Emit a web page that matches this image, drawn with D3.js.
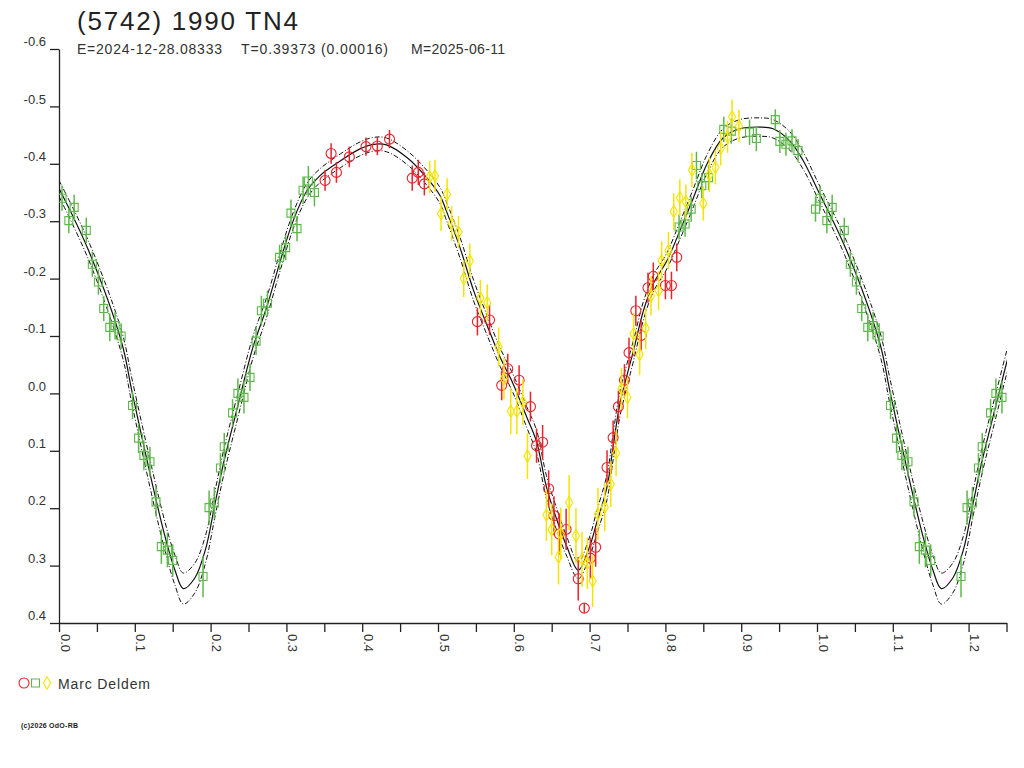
<!DOCTYPE html>
<html>
<head>
<meta charset="utf-8">
<script src="https://cdn.jsdelivr.net/npm/d3@7"></script>
<style>
  body { margin: 0; background: #fff; }
  svg text { font-family: "Liberation Sans", Arial, sans-serif; }
</style>
</head>
<body>
<div id="chart"></div>
<script>
// textes
const titleText = '(5742) 1990 TN4';
const subtitleParts = ['E=2024-12-28.08333', 'T=0.39373 (0.00016)', 'M=2025-06-11'];
const observerName = 'Marc Deldem';
const creditText = '(c)2026 OdO-RB';

// axes
const xTickValues = [0, 0.05, 0.1, 0.15, 0.2, 0.25, 0.3, 0.35, 0.4, 0.45, 0.5, 0.55, 0.6,
  0.65, 0.7, 0.75, 0.8, 0.85, 0.9, 0.95, 1.0, 1.05, 1.1, 1.15, 1.2, 1.25];
const xLabelValues = [0, 0.1, 0.2, 0.3, 0.4, 0.5, 0.6, 0.7, 0.8, 0.9, 1.0, 1.1, 1.2];
const yTickValues = [-0.6, -0.5, -0.4, -0.3, -0.2, -0.1, 0, 0.1, 0.2, 0.3, 0.4];

// courbe ajustée (phase 0..1), avec sa demi-largeur d'incertitude
const fitPhase = [0.000, 0.039, 0.083, 0.096, 0.122, 0.140, 0.153, 0.164, 0.179, 0.193,
  0.206, 0.217, 0.236, 0.256, 0.274, 0.292, 0.309, 0.327, 0.344, 0.371, 0.397, 0.415,
  0.432, 0.459, 0.485, 0.503, 0.511, 0.529, 0.547, 0.564, 0.582, 0.599, 0.617, 0.630,
  0.643, 0.657, 0.670, 0.685, 0.700, 0.709, 0.723, 0.731, 0.740, 0.749, 0.758, 0.771,
  0.784, 0.802, 0.819, 0.837, 0.855, 0.876, 0.898, 0.925, 0.942, 0.964, 0.982, 1.000];
const fitMag = [-0.357, -0.249, -0.087, -0.005, 0.151, 0.250, 0.308, 0.340, 0.322, 0.273,
  0.191, 0.122, 0.021, -0.081, -0.150, -0.231, -0.301, -0.353, -0.379, -0.405, -0.426, -0.434,
  -0.433, -0.411, -0.376, -0.344, -0.318, -0.254, -0.179, -0.121, -0.063, -0.017, 0.041, 0.084,
  0.163, 0.221, 0.267, 0.308, 0.267, 0.227, 0.163, 0.093, 0.018, -0.030, -0.075, -0.144,
  -0.191, -0.231, -0.283, -0.341, -0.400, -0.445, -0.461, -0.464, -0.461, -0.440, -0.405, -0.357];
const fitSpread = [0.014, 0.016, 0.020, 0.022, 0.024, 0.025, 0.026, 0.027, 0.026, 0.024,
  0.022, 0.022, 0.021, 0.019, 0.017, 0.016, 0.014, 0.013, 0.012, 0.012, 0.012, 0.012,
  0.012, 0.012, 0.013, 0.014, 0.016, 0.018, 0.018, 0.017, 0.016, 0.016, 0.018, 0.020,
  0.020, 0.019, 0.017, 0.015, 0.017, 0.020, 0.022, 0.023, 0.022, 0.020, 0.018, 0.016,
  0.014, 0.014, 0.015, 0.016, 0.016, 0.016, 0.016, 0.016, 0.016, 0.016, 0.015, 0.014];

// mesures [phase, magnitude, erreur] par session
const redPoints = [
  [0.351, -0.371, 0.018], [0.359, -0.418, 0.018], [0.366, -0.385, 0.018], [0.383, -0.412, 0.018],
  [0.405, -0.430, 0.016], [0.420, -0.431, 0.016], [0.436, -0.443, 0.016], [0.466, -0.375, 0.022],
  [0.474, -0.385, 0.022], [0.482, -0.365, 0.020], [0.552, -0.125, 0.024], [0.568, -0.128, 0.026],
  [0.584, -0.014, 0.026], [0.592, -0.043, 0.026], [0.607, -0.023, 0.026], [0.622, 0.023, 0.026],
  [0.630, 0.091, 0.030], [0.638, 0.085, 0.030], [0.646, 0.166, 0.032], [0.653, 0.213, 0.034],
  [0.660, 0.245, 0.036], [0.669, 0.237, 0.036], [0.685, 0.323, 0.038], [0.693, 0.374, 0.008],
  [0.701, 0.287, 0.036], [0.708, 0.268, 0.034], [0.723, 0.129, 0.030], [0.731, 0.077, 0.030],
  [0.738, 0.023, 0.028], [0.746, -0.023, 0.028], [0.752, -0.071, 0.026], [0.761, -0.144, 0.026],
  [0.768, -0.101, 0.026], [0.777, -0.184, 0.026], [0.784, -0.204, 0.024], [0.800, -0.188, 0.024],
  [0.808, -0.188, 0.024], [0.815, -0.237, 0.024]
];
const greenPoints = [
  [0.004, -0.340, 0.022], [0.013, -0.301, 0.022], [0.020, -0.324, 0.022], [0.036, -0.284, 0.022],
  [0.044, -0.225, 0.022], [0.052, -0.194, 0.022], [0.059, -0.148, 0.022], [0.067, -0.115, 0.024],
  [0.074, -0.118, 0.024], [0.082, -0.100, 0.022], [0.097, 0.021, 0.024], [0.105, 0.078, 0.026],
  [0.112, 0.108, 0.026], [0.120, 0.119, 0.026], [0.128, 0.189, 0.026], [0.135, 0.267, 0.030],
  [0.143, 0.273, 0.030], [0.150, 0.291, 0.028], [0.190, 0.319, 0.036], [0.198, 0.199, 0.030],
  [0.205, 0.191, 0.028], [0.213, 0.130, 0.026], [0.218, 0.093, 0.024], [0.229, 0.034, 0.024],
  [0.236, 0.000, 0.026], [0.244, 0.007, 0.028], [0.252, -0.028, 0.024], [0.260, -0.091, 0.024],
  [0.267, -0.144, 0.026], [0.275, -0.157, 0.022], [0.291, -0.237, 0.022], [0.299, -0.254, 0.022],
  [0.306, -0.314, 0.024], [0.314, -0.287, 0.022], [0.322, -0.354, 0.024], [0.329, -0.370, 0.026],
  [0.337, -0.350, 0.024], [0.818, -0.290, 0.022], [0.826, -0.295, 0.022], [0.834, -0.321, 0.022],
  [0.841, -0.397, 0.024], [0.848, -0.362, 0.022], [0.857, -0.376, 0.022], [0.877, -0.460, 0.022],
  [0.887, -0.457, 0.022], [0.911, -0.455, 0.022], [0.920, -0.444, 0.022], [0.945, -0.477, 0.018],
  [0.951, -0.439, 0.020], [0.959, -0.434, 0.020], [0.967, -0.440, 0.020], [0.975, -0.423, 0.020],
  [0.998, -0.321, 0.022]
];
const yellowPoints = [
  [0.489, -0.377, 0.028], [0.496, -0.379, 0.028], [0.504, -0.313, 0.030], [0.512, -0.347, 0.028],
  [0.518, -0.296, 0.030], [0.527, -0.281, 0.028], [0.534, -0.200, 0.032], [0.542, -0.231, 0.030],
  [0.556, -0.166, 0.032], [0.565, -0.158, 0.032], [0.580, -0.081, 0.034], [0.587, -0.026, 0.036],
  [0.596, 0.031, 0.040], [0.604, 0.031, 0.040], [0.612, 0.015, 0.040], [0.618, 0.109, 0.040],
  [0.643, 0.212, 0.045], [0.650, 0.237, 0.045], [0.659, 0.285, 0.048], [0.662, 0.244, 0.045],
  [0.673, 0.190, 0.048], [0.682, 0.248, 0.048], [0.690, 0.289, 0.048], [0.697, 0.296, 0.045],
  [0.704, 0.327, 0.045], [0.711, 0.210, 0.045], [0.720, 0.198, 0.042], [0.728, 0.158, 0.040],
  [0.735, 0.104, 0.040], [0.742, -0.008, 0.036], [0.750, 0.007, 0.036], [0.758, -0.104, 0.036],
  [0.766, -0.068, 0.036], [0.774, -0.113, 0.036], [0.781, -0.170, 0.034], [0.791, -0.179, 0.034],
  [0.795, -0.231, 0.034], [0.804, -0.249, 0.032], [0.811, -0.317, 0.032], [0.819, -0.341, 0.032],
  [0.827, -0.334, 0.030], [0.835, -0.389, 0.030], [0.850, -0.331, 0.030], [0.858, -0.381, 0.030],
  [0.866, -0.394, 0.030], [0.873, -0.427, 0.030], [0.882, -0.447, 0.028], [0.888, -0.482, 0.030],
  [0.897, -0.466, 0.028]
];

const series = [
  { points: redPoints, color: '#e8232b', shape: 'circle' },
  { points: greenPoints, color: '#5cb848', shape: 'square' },
  { points: yellowPoints, color: '#f4e400', shape: 'diamond' }
];

const W = 1024, H = 768;
const phaseMax = 1.25;

const svg = d3.select('#chart').append('svg')
  .attr('width', W).attr('height', H);

const x = d3.scaleLinear().domain([0, phaseMax]).range([59, 1006.5]);
const y = d3.scaleLinear().domain([-0.6, 0.4]).range([49, 623]);

// titre
svg.append('text')
  .attr('x', 77).attr('y', 30)
  .attr('font-size', '26px').attr('fill', '#222')
  .attr('textLength', 221).attr('lengthAdjust', 'spacing')
  .text(titleText);

const subX = [77, 241, 411];
const subLen = [145, 147, 94];
subtitleParts.forEach((t, i) => {
  svg.append('text')
    .attr('x', subX[i]).attr('y', 53.5)
    .attr('font-size', '14px').attr('fill', '#333')
    .attr('textLength', subLen[i]).attr('lengthAdjust', 'spacing')
    .text(t);
});

// axes
const yAxis = svg.append('g')
  .attr('transform', 'translate(59,0)')
  .call(d3.axisLeft(y).tickValues(yTickValues).tickSize(9).tickSizeOuter(0)
    .tickFormat(d => d.toFixed(1)));
yAxis.selectAll('text')
  .attr('x', -13).attr('dy', '-0.25em')
  .attr('font-size', '13px').attr('fill', '#333')
  .attr('font-family', '"Liberation Sans", Arial, sans-serif');

const xAxis = svg.append('g')
  .attr('transform', 'translate(0,623)')
  .call(d3.axisBottom(x).tickValues(xTickValues).tickSize(9).tickSizeOuter(0)
    .tickFormat(d => xLabelValues.some(v => Math.abs(v - d) < 1e-6) ? d.toFixed(1) : ''));
xAxis.selectAll('text')
  .attr('transform', 'rotate(90)')
  .attr('x', 11).attr('y', -1).attr('dy', 0)
  .attr('text-anchor', 'start')
  .attr('font-size', '13px').attr('fill', '#333')
  .attr('font-family', '"Liberation Sans", Arial, sans-serif');

[yAxis, xAxis].forEach(a => {
  a.select('.domain').attr('stroke', '#222').attr('stroke-width', 1.3);
  a.selectAll('.tick line').attr('stroke', '#222').attr('stroke-width', 1.3);
});

// zone de tracé
svg.append('clipPath').attr('id', 'plot-clip')
  .append('rect').attr('x', 59).attr('y', 0).attr('width', 1007 - 59).attr('height', 623);

const plot = svg.append('g').attr('clip-path', 'url(#plot-clip)');

// courbe répliquée au-delà de la phase 1
const fitRows = fitPhase.map((p, i) => ({ p, m: fitMag[i], s: fitSpread[i] }));
const fitExtended = fitRows.concat(
  fitRows.filter(d => d.p > 0 && d.p <= 0.3).map(d => ({ p: d.p + 1, m: d.m, s: d.s }))
);

const lineOf = fn => d3.line()
  .x(d => x(d.p))
  .y(d => y(fn(d)))
  .curve(d3.curveCatmullRom.alpha(0.5));

plot.append('path').datum(fitExtended)
  .attr('fill', 'none').attr('stroke', '#111').attr('stroke-width', 1.2)
  .attr('d', lineOf(d => d.m));

[d => d.m - d.s, d => d.m + d.s].forEach(fn => {
  plot.append('path').datum(fitExtended)
    .attr('fill', 'none').attr('stroke', '#111').attr('stroke-width', 1)
    .attr('stroke-dasharray', '5,2,1,2')
    .attr('d', lineOf(fn));
});

// points (avec répétition entre 1 et 1.25)
const symbolPath = {
  circle: d3.symbol().type(d3.symbolCircle).size(Math.PI * 25),
  square: d3.symbol().type(d3.symbolSquare).size(64),
  diamond: d3.symbol().type(d3.symbolDiamond).size(44)
};

series.forEach(s => {
  const pts = [];
  s.points.forEach(([p, m, e]) => {
    pts.push({ p, m, e });
    if (p + 1 <= phaseMax) pts.push({ p: p + 1, m, e });
  });
  const g = plot.append('g');
  g.selectAll('line')
    .data(pts)
    .join('line')
    .attr('x1', d => x(d.p)).attr('x2', d => x(d.p))
    .attr('y1', d => y(d.m - d.e)).attr('y2', d => y(d.m + d.e))
    .attr('stroke', s.color).attr('stroke-width', 1.5);
  g.selectAll('path')
    .data(pts)
    .join('path')
    .attr('transform', d => `translate(${x(d.p)},${y(d.m)})`)
    .attr('d', symbolPath[s.shape]())
    .attr('fill', 'none').attr('stroke', s.color).attr('stroke-width', 1.1);
});

// légende
const legendX = [24, 35.5, 47];
series.forEach((s, i) => {
  svg.append('path')
    .attr('transform', `translate(${legendX[i]},683)`)
    .attr('d', symbolPath[s.shape]())
    .attr('fill', 'none').attr('stroke', s.color).attr('stroke-width', 1.1);
});
svg.append('text')
  .attr('x', 58).attr('y', 688.5)
  .attr('font-size', '14px').attr('fill', '#333')
  .attr('textLength', 92).attr('lengthAdjust', 'spacing')
  .text(observerName);

svg.append('text')
  .attr('x', 21).attr('y', 727.5)
  .attr('font-size', '7px').attr('fill', '#222').attr('font-weight', 'bold')
  .attr('textLength', 57).attr('lengthAdjust', 'spacing')
  .text(creditText);
</script>
</body>
</html>
